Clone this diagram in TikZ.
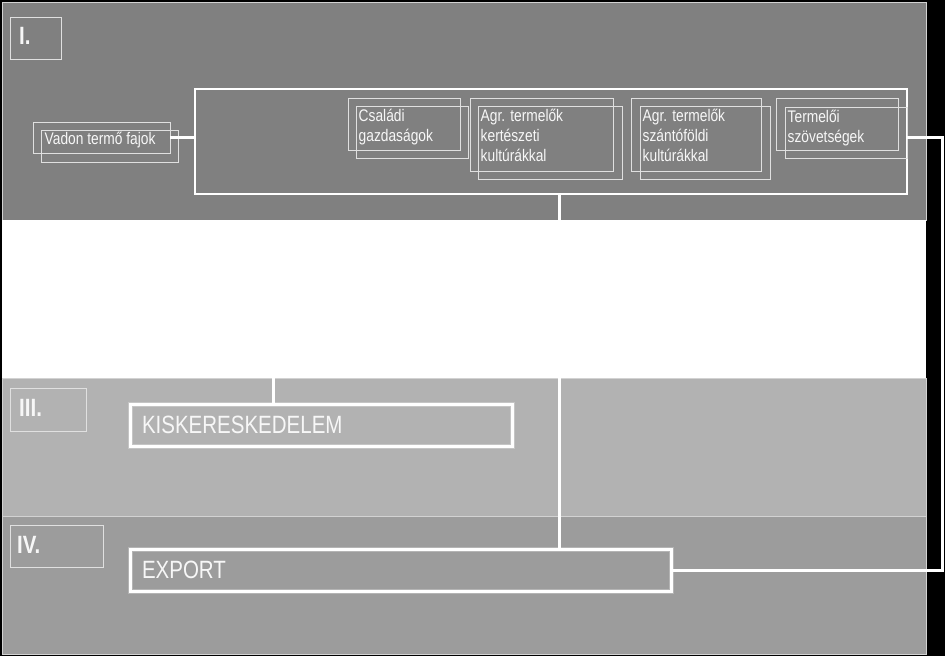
\documentclass[tikz,border=0pt]{standalone}
\usepackage{fontspec}
\newfontfamily\narrow[FakeStretch=0.82]{Liberation Sans}
\usetikzlibrary{positioning}

\definecolor{bandI}{gray}{0.50}
\definecolor{bandIII}{gray}{0.70}
\definecolor{bandIV}{gray}{0.61}
\definecolor{framegray}{gray}{0.88}
\definecolor{textgray}{gray}{0.97}

\tikzset{
  band/.style={draw=gray!35, line width=0.8pt},
  frame/.style={draw=framegray, line width=0.9pt, inner sep=0pt, outer sep=0pt, anchor=north west},
  romframe/.style={draw=framegray, line width=1pt, inner sep=0pt, outer sep=0pt, anchor=north west},
  romtext/.style={text=textgray, inner sep=0pt, anchor=north west, font=\narrow\bfseries\fontsize{25}{28}\selectfont},
  smalltext/.style={text=textgray, inner sep=2.5pt, anchor=north west, align=left, font=\narrow\fontsize{16.8}{20}\selectfont},
  bigframe/.style={draw=white, line width=2pt, inner sep=0pt, outer sep=0pt, anchor=north west},
  mainbox/.style={draw=white, line width=3pt, anchor=north west, inner xsep=12pt, outer sep=0pt,
    align=left, text=textgray, font=\narrow\fontsize{25}{28}\selectfont,
    preaction={draw=white, draw opacity=0.25, line width=5pt}},
  conn/.style={draw=white, line width=3pt}
}

\begin{document}
\begin{tikzpicture}[x=1pt,y=-1pt]
  \useasboundingbox (0,0) rectangle (945,656);
  \fill[black] (0,0) rectangle (945,656);

  % szintek
  \filldraw[band, fill=bandI] (2,2) rectangle (926,220);
  \fill[white] (2,220) rectangle (926,378);
  \filldraw[band, fill=bandIII] (2,378) rectangle (926,516);
  \filldraw[band, fill=bandIV] (2,516) rectangle (926,654);

  % roman numerals
  \node[romframe, minimum width=51, minimum height=42] (r1) at (10,17) {};
  \node[romtext] (r1t) at ([xshift=9pt,yshift=-10pt]r1.north west) {I.};
  \node[romframe, minimum width=76, minimum height=43] (r3) at (10,388) {};
  \node[romtext] (r3t) at ([xshift=9pt,yshift=-11pt]r3.north west) {III.};
  \node[romframe, minimum width=93, minimum height=42] (r4) at (10,525) {};
  \node[romtext] (r4t) at ([xshift=7pt,yshift=-11pt]r4.north west) {IV.};

  % level I
  \node[bigframe, minimum width=712, minimum height=105] (nagy) at (195,89) {};

  \node[frame, minimum width=137, minimum height=31] (vadon1) at (33,122) {};
  \node[frame, minimum width=137, minimum height=32] (vadon) at (41,130) {};
  \node[smalltext, inner sep=3.5pt, yshift=1.5pt] (vadont) at (vadon.north west) {Vadon termő fajok};

  \node[frame, minimum width=112, minimum height=52] (csaladi1) at (348,98) {};
  \node[frame, minimum width=112, minimum height=52] (csaladi) at (356,106) {};
  \node[smalltext] (csaladit) at (csaladi.north west) {Családi\\gazdaságok};

  \node[frame, minimum width=143, minimum height=73] (kertesz1) at (470,98) {};
  \node[frame, minimum width=144, minimum height=73] (kertesz) at (478,106) {};
  \node[smalltext] (kertészt) at (kertesz.north west) {Agr. termelők\\kertészeti\\kultúrákkal};

  \node[frame, minimum width=130, minimum height=73] (szanto1) at (631,98) {};
  \node[frame, minimum width=130, minimum height=73] (szanto) at (640,106) {};
  \node[smalltext] (szantot) at (szanto.north west) {Agr. termelők\\szántóföldi\\kultúrákkal};

  \node[frame, minimum width=122, minimum height=52] (termeloi1) at (776,98) {};
  \node[frame, minimum width=122, minimum height=51] (termeloi) at (785,107) {};
  \node[smalltext] (termeloit) at (termeloi.north west) {Termelői\\szövetségek};

  % levels III and IV
  \node[mainbox, minimum height=42, text width=358] (kisker) at (130,404) {KISKERESKEDELEM};
  \node[mainbox, minimum height=42, text width=517] (export) at (130,549) {EXPORT};

  % connectors
  \coordinate (kiskerbe) at (273,378);
  \draw[conn] (vadon1.east) -- (vadon1.east -| nagy.west);
  \draw[conn] ([xshift=8pt]nagy.south) -- ([xshift=8pt]nagy.south |- export.north);
  \draw[conn] (kiskerbe) -- (kiskerbe |- kisker.north);
  \draw[conn] ([yshift=-4.5pt]termeloi.east) -- ++(35,0) |- (export.east);
\end{tikzpicture}
\end{document}
